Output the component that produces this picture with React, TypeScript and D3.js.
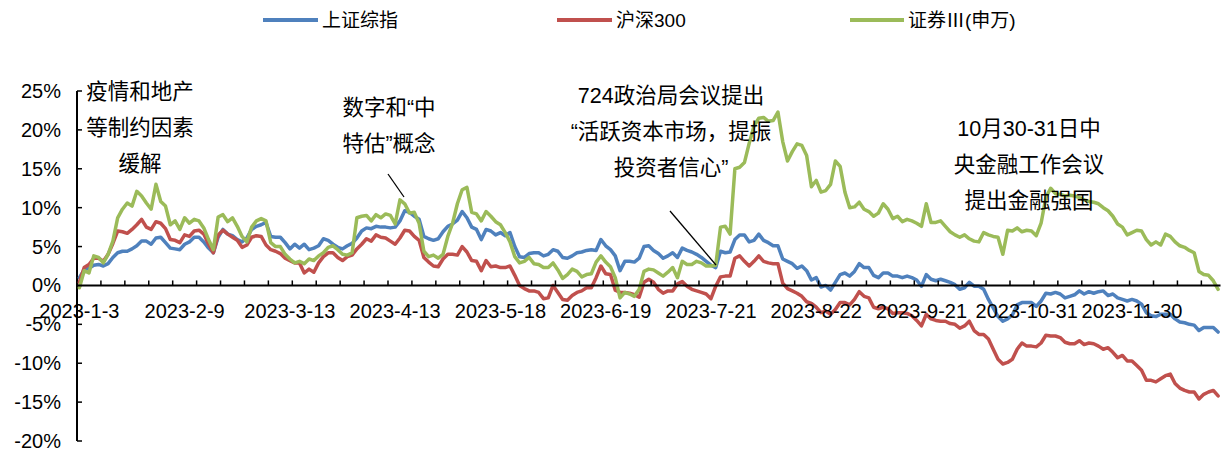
import React from "react";
import * as d3 from "d3";

// ---- data (cumulative return %, 2023 trading days, index 0 = 2023-1-3) ----
const seriesNames = ["上证综指", "沪深300", "证券Ⅲ(申万)"];
const seriesColors = ["#4F81BD", "#C0504D", "#9BBB59"];

const shComposite = [
  1.0, 2.0, 2.2, 2.6, 2.7, 2.5, 2.8, 3.6, 4.2, 4.4, 4.4, 4.7, 5.1, 5.7, 5.7, 5.3, 6.1, 6.2, 5.5, 4.8,
  4.7, 4.6, 5.3, 5.6, 6.2, 6.2, 5.6, 4.8, 4.2, 6.2, 7.2, 6.6, 6.4, 5.9, 5.6, 6.1, 7.2, 7.6, 7.8, 8.1,
  6.3, 6.2, 6.2, 5.5, 4.7, 5.3, 4.8, 5.3, 4.6, 4.8, 5.1, 6.0, 5.8, 5.3, 4.9, 4.7, 5.1, 5.4, 6.1,
  7.0, 7.4, 7.3, 7.6, 7.5, 7.5, 7.4, 7.5, 8.3, 9.6, 9.4, 8.9, 8.5, 6.3, 6.0, 5.8, 6.0, 6.9, 7.6, 7.9,
  8.4, 9.5, 8.7, 7.5, 7.2, 5.9, 7.2, 7.0, 6.5, 6.8, 6.4, 6.8, 5.0, 3.7, 3.6, 4.1, 4.2, 4.2, 3.8, 4.0,
  4.6, 4.4, 3.6, 3.5, 3.8, 4.2, 4.3, 4.5, 4.6, 4.5, 5.9, 5.1, 4.6, 3.8, 1.9, 3.1, 3.1, 3.0, 3.5, 5.0,
  5.1, 4.5, 4.1, 3.5, 3.8, 4.2, 3.6, 4.8, 4.5, 4.3, 4.0, 3.6, 3.1, 2.6, 2.3, 4.4, 4.2, 4.3, 5.9,
  6.5, 6.5, 5.6, 5.8, 6.6, 5.8, 5.5, 5.1, 5.1, 3.4, 3.1, 2.8, 2.2, 2.5, 1.9, 0.7, 1.0, -0.2, 0.0, -0.6,
  0.4, 1.4, 1.6, 1.2, 1.8, 2.8, 2.3, 2.3, 1.3, 1.0, 1.6, 1.6, 1.2, 1.2, 1.0, 1.2, 1.0, 0.7, -0.1, 1.4,
  0.8, 0.6, 0.8, 0.6, 0.4, 0.1, -0.5, -0.3, 0.4, -0.1, -0.1, -0.5, -1.8, -2.9, -4.0, -4.6, -4.3, -3.8, -2.5,
  -2.2, -2.2, -2.2, -2.7, -2.0, -1.0, -1.1, -0.9, -1.1, -1.6, -1.4, -1.2, -0.7, -1.1, -0.8, -1.0, -0.8, -0.7, -1.3, -1.1,
  -1.6, -1.8, -2.0, -1.8, -2.0, -2.4, -3.5, -3.9, -4.0, -3.7, -3.7, -3.7, -4.3, -4.7, -4.8, -5.0, -5.1, -5.8, -5.4, -5.4,
  -5.4, -6.0,
];

const csi300 = [
  0.4, 2.3, 2.7, 3.5, 3.5, 3.1, 4.0, 5.4, 7.0, 6.9, 6.7, 7.2, 7.8, 8.5, 7.5, 7.2, 8.2, 8.0, 7.3, 5.9,
  5.8, 5.5, 6.5, 6.3, 7.0, 7.1, 6.6, 5.3, 4.2, 6.5, 7.1, 6.6, 6.2, 5.8, 4.9, 5.2, 6.2, 6.4, 6.3, 5.2,
  4.6, 4.4, 4.1, 3.5, 3.2, 2.9, 2.9, 1.6, 2.1, 1.7, 2.9, 3.7, 4.2, 4.2, 3.6, 3.2, 3.7, 3.9, 4.7,
  5.3, 6.0, 5.7, 6.5, 6.2, 6.1, 5.7, 5.3, 6.1, 7.1, 7.0, 6.3, 5.8, 3.6, 3.0, 2.5, 2.4, 3.4, 4.0, 4.0,
  3.9, 5.0, 4.3, 3.2, 3.1, 1.9, 3.2, 2.4, 2.5, 2.3, 2.3, 2.5, 1.3, 0.0, -0.4, -0.7, -0.7, -0.9, -1.7, -1.6,
  0.0, -0.9, -1.8, -1.9, -1.3, -0.9, -0.7, -0.3, -0.3, 1.0, 2.5, 1.5, 1.4, -0.6, -0.9, -0.9, -1.0, -1.2, -1.5, 0.4,
  0.8, 0.4, -0.5, -1.0, -0.7, -0.7, 0.2, 0.5, -0.1, -0.5, -0.7, -0.9, -1.1, -1.7, -0.1, 1.1, 1.2, 1.2, 3.5,
  3.8, 3.1, 2.5, 3.1, 3.8, 3.1, 2.9, 2.8, 2.8, 0.3, -0.4, -0.7, -1.0, -1.4, -2.1, -2.3, -2.8, -3.5, -3.3, -3.7,
  -3.1, -2.2, -2.2, -2.5, -1.8, -0.8, -1.4, -1.6, -2.8, -3.0, -2.8, -3.0, -3.6, -3.5, -3.5, -3.6, -3.9, -4.5, -5.2, -3.7,
  -4.3, -4.5, -4.6, -4.6, -4.9, -5.0, -5.5, -5.2, -4.6, -5.8, -6.3, -6.3, -6.9, -8.2, -9.5, -10.1, -9.9, -9.5, -8.2,
  -7.4, -7.8, -7.8, -7.9, -7.4, -6.4, -6.5, -6.5, -6.7, -7.3, -7.5, -7.5, -7.1, -7.6, -7.4, -7.5, -7.8, -8.2, -8.0, -8.6,
  -9.3, -9.0, -9.7, -9.7, -10.3, -10.9, -12.2, -12.2, -12.4, -12.0, -11.6, -11.4, -12.6, -13.2, -13.5, -13.7, -13.7, -14.6, -14.0, -13.7,
  -13.5, -14.2,
];

const brokers = [
  -0.3, 1.9, 1.6, 3.8, 3.6, 2.9, 4.0, 5.7, 8.7, 9.8, 10.6, 10.2, 12.1, 11.5, 10.6, 9.8, 13.0, 10.8, 10.2, 7.8,
  8.3, 7.2, 8.7, 8.0, 8.5, 8.3, 7.4, 5.9, 4.6, 8.8, 9.1, 8.2, 8.7, 7.6, 6.3, 5.6, 7.5, 8.3, 8.6, 8.3,
  5.5, 5.0, 5.0, 4.0, 3.4, 2.9, 3.1, 2.8, 3.4, 3.2, 3.8, 4.2, 4.9, 5.1, 4.6, 4.0, 3.9, 4.2, 8.7,
  8.9, 9.0, 8.3, 9.1, 8.7, 9.2, 9.0, 7.9, 11.0, 10.5, 9.3, 9.4, 8.0, 4.4, 3.7, 3.9, 3.5, 4.0, 6.3, 8.0,
  10.5, 12.3, 12.6, 9.4, 9.2, 8.3, 9.5, 8.9, 8.2, 7.8, 6.8, 5.6, 3.7, 2.9, 3.1, 3.6, 2.8, 2.7, 2.3, 2.3,
  2.9, 2.0, 0.9, 1.4, 2.1, 1.8, 1.1, 1.4, 1.5, 3.0, 3.8, 3.0, 2.4, 1.0, -1.6, -0.9, -1.1, -1.4, -0.5, 1.8,
  2.1, 2.0, 1.6, 1.2, 1.7, 2.3, 1.0, 3.1, 2.7, 2.7, 3.1, 2.9, 2.5, 2.5, 2.6, 7.5, 7.6, 6.6, 15.0,
  15.2, 15.8, 18.3, 20.5, 21.5, 21.6, 21.1, 21.2, 22.3, 18.5, 16.0, 17.2, 18.2, 18.0, 16.7, 12.7, 13.5, 12.0, 12.2, 13.0,
  16.0, 15.3, 12.0, 10.0, 10.1, 10.7, 9.8, 9.5, 8.9, 9.3, 10.5, 9.8, 8.6, 8.9, 8.2, 8.5, 8.3, 8.0, 7.6, 10.5,
  8.1, 8.1, 8.3, 7.6, 6.9, 6.5, 6.2, 6.5, 6.0, 5.7, 5.6, 6.8, 6.5, 6.3, 6.2, 4.0, 7.1, 7.0, 7.4,
  6.9, 7.1, 7.0, 6.4, 8.0, 11.3, 12.5, 11.8, 11.7, 11.5, 11.6, 11.5, 11.3, 11.0, 10.8, 10.7, 10.5, 10.0, 9.6, 8.9,
  7.9, 7.5, 6.5, 6.8, 7.1, 7.0, 5.9, 5.2, 5.6, 5.2, 6.6, 6.3, 5.6, 5.1, 4.9, 4.5, 4.2, 1.8, 1.4, 1.3,
  0.6, -0.5,
];

const tickLabels = [
  "2023-1-3", "2023-2-9", "2023-3-13", "2023-4-13", "2023-5-18", "2023-6-19",
  "2023-7-21", "2023-8-22", "2023-9-21", "2023-10-31", "2023-11-30",
];
const labelInterval = 22;
const tickInterval = 5;
const yTicks = [-20, -15, -10, -5, 0, 5, 10, 15, 20, 25];

const annotations = [
  { lines: ["疫情和地产", "等制约因素", "缓解"], cx: 140, y0: 91 },
  { lines: ["数字和“中", "特估”概念"], cx: 389, y0: 107 },
  { lines: ["724政治局会议提出", "“活跃资本市场，提振", "投资者信心”"], cx: 671, y0: 95 },
  { lines: ["10月30-31日中", "央金融工作会议", "提出金融强国"], cx: 1029, y0: 128 },
];

const FONT = "'Liberation Sans', Arial, 'Noto Sans CJK SC', sans-serif";
const CJK = "'Noto Sans CJK SC', sans-serif";

export default function App() {
  const W = 1221;
  const H = 453;
  const N = shComposite.length;
  const plotLeft = 77;
  const plotRight = 1220.5;

  const x = d3.scaleBand<number>().domain(d3.range(N)).range([plotLeft, plotRight]).padding(0);
  const bw = x.bandwidth();
  const y = d3.scaleLinear().domain([-20, 25]).range([441, 91]);
  const y0 = y(0);

  const line = d3
    .line<number>()
    .x((_, i) => (x(i) as number) + bw / 2)
    .y((d) => y(d));

  const all = [shComposite, csi300, brokers];

  const tickPositions: number[] = [];
  for (let k = tickInterval; k <= N; k += tickInterval) tickPositions.push(plotLeft + k * bw);

  const labelIdx = tickLabels.map((_, k) => k * labelInterval);

  const legend = [
    { x1: 263, x2: 318, tx: 322 },
    { x1: 557, x2: 612, tx: 616 },
    { x1: 850, x2: 904, tx: 908 },
  ];

  const renderLegendText = (s: string) => {
    const parts = s.split("Ⅲ");
    if (parts.length === 1) return s;
    return (
      <>
        {parts[0]}
        <tspan fontFamily={CJK}>Ⅲ</tspan>
        {parts[1]}
      </>
    );
  };

  return (
    <svg
      width={W}
      height={H}
      style={{ position: "absolute", left: 0, top: 0, display: "block", background: "#fff" }}
      fontFamily={FONT}
    >
      <rect x={0} y={0} width={W} height={H} fill="#fff" />
      {/* legend */}
      {legend.map((l, i) => (
        <g key={i}>
          <line x1={l.x1} x2={l.x2} y1={20} y2={20} stroke={seriesColors[i]} strokeWidth={4} />
          <text x={l.tx} y={20} dy="0.35em" fontSize={19} fill="#000">
            {renderLegendText(seriesNames[i])}
          </text>
        </g>
      ))}

      {/* y axis */}
      <line x1={plotLeft} x2={plotLeft} y1={y(25)} y2={y(-20)} stroke="#000" strokeWidth={2} />
      {yTicks.map((t) => (
        <g key={t}>
          <line x1={plotLeft} x2={plotLeft + 5} y1={y(t)} y2={y(t)} stroke="#000" strokeWidth={1.5} />
          <text x={61} y={y(t)} dy="0.35em" textAnchor="end" fontSize={20} fill="#000">
            {t}%
          </text>
        </g>
      ))}

      {/* series */}
      {all.map((s, i) => (
        <path
          key={i}
          d={line(s) || ""}
          fill="none"
          stroke={seriesColors[i]}
          strokeWidth={3.5}
          strokeLinejoin="round"
          strokeLinecap="round"
        />
      ))}

      {/* x axis */}
      <line x1={plotLeft} x2={plotRight} y1={y0} y2={y0} stroke="#000" strokeWidth={2} />
      {tickPositions.map((p, i) => (
        <line key={i} x1={p} x2={p} y1={y0} y2={y0 - 5} stroke="#000" strokeWidth={1.5} />
      ))}
      {labelIdx.map((idx, k) => (
        <text
          key={k}
          x={(x(idx) as number) + bw / 2}
          y={y0 + 33}
          textAnchor="middle"
          fontSize={20}
          fill="#000"
        >
          {tickLabels[k]}
        </text>
      ))}

      {/* annotations */}
      {annotations.map((a, i) => (
        <g key={i}>
          {a.lines.map((t, j) => (
            <text
              key={j}
              x={a.cx}
              y={a.y0 + j * 36}
              dy="0.35em"
              textAnchor="middle"
              fontSize={21.5}
              fill="#000"
            >
              {t}
            </text>
          ))}
        </g>
      ))}
      <line x1={388} y1={174} x2={404} y2={197} stroke="#000" strokeWidth={1.3} />
      <line x1={670} y1={211} x2={716} y2={265} stroke="#000" strokeWidth={1.3} />
    </svg>
  );
}
